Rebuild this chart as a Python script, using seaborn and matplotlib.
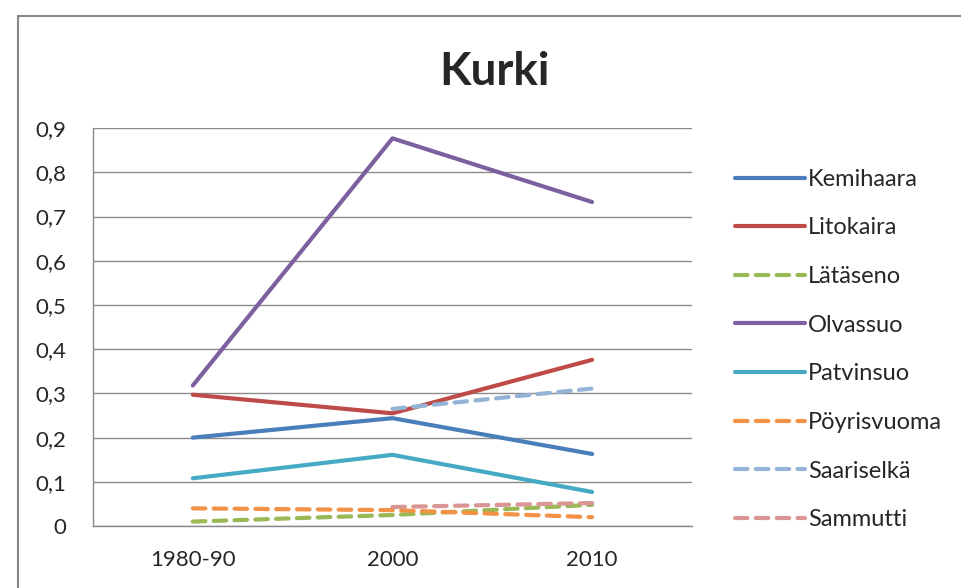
import pandas as pd
import numpy as np
import matplotlib.pyplot as plt
import seaborn as sns
from matplotlib.patches import Rectangle

years = ['1980-90', '2000', '2010']
sites = ['Kemihaara', 'Litokaira', 'Lätäseno', 'Olvassuo',
         'Patvinsuo', 'Pöyrisvuoma', 'Saariselkä', 'Sammutti']

kemihaara = [0.20, 0.244, 0.163]
litokaira = [0.297, 0.255, 0.376]
lataseno = [0.010, 0.025, 0.048]
olvassuo = [0.318, 0.877, 0.733]
patvinsuo = [0.108, 0.161, 0.077]
poyrisvuoma = [0.040, 0.036, 0.020]
saariselka = [np.nan, 0.265, 0.311]
sammutti = [np.nan, 0.043, 0.052]

yticks = [0, 0.1, 0.2, 0.3, 0.4, 0.5, 0.6, 0.7, 0.8, 0.9]
ytick_labels = ['0', '0,1', '0,2', '0,3', '0,4', '0,5', '0,6', '0,7', '0,8', '0,9']

colors = ['#4A7EBB', '#BE4B48', '#98B954', '#7D60A0',
          '#46AAC5', '#F39145', '#95B3D7', '#D99694']
dashed = [False, False, True, False, False, True, True, True]

values = [kemihaara, litokaira, lataseno, olvassuo,
          patvinsuo, poyrisvuoma, saariselka, sammutti]
rows = []
for s, vals in zip(sites, values):
    for y, v in zip(years, vals):
        if not np.isnan(v):
            rows.append({'year': y, 'value': v, 'site': s})
df = pd.DataFrame(rows)

sns.set_style('white')
plt.rcParams['font.family'] = ['Lato', 'DejaVu Sans']

fig = plt.figure(figsize=(9.61, 5.88), dpi=100)
ax = fig.add_axes([0.0968, 0.1054, 0.6232, 0.6766])

lw = 3.0
palette = dict(zip(sites, colors))
dash_map = {s: ((3.0, 2.0) if d else '') for s, d in zip(sites, dashed)}
sns.lineplot(data=df, x='year', y='value', hue='site', style='site',
             hue_order=sites, style_order=sites, palette=palette,
             dashes=dash_map, linewidth=lw, sort=False, ax=ax)
for ln in ax.get_lines():
    ln.set_dash_capstyle('round')
    ln.set_solid_capstyle('round')

ax.set_xlim(-0.5, 2.5)
ax.set_ylim(0, 0.9)
ax.set_yticks(yticks)
ax.set_yticklabels(ytick_labels)
ax.set_xticks([0, 1, 2])
ax.set_xticklabels(years)
ax.set_xticks([-0.5, 0.5, 1.5, 2.5], minor=True)
ax.tick_params(axis='x', which='major', length=0, pad=17, labelsize=16)
ax.tick_params(axis='x', which='minor', length=6.5, width=1, color='#888888', direction='out')
ax.tick_params(axis='y', length=7, width=1, color='#888888', direction='out', labelsize=16, pad=12)
ax.set_xlabel('')
ax.set_ylabel('')
ax.grid(axis='y', color='#8c8c8c', linewidth=1)
ax.set_axisbelow(True)
for side in ['top', 'right']:
    ax.spines[side].set_visible(False)
for side in ['left', 'bottom']:
    ax.spines[side].set_color('#888888')
    ax.spines[side].set_linewidth(1)

fig.text(0.515, 0.878, 'Kurki', ha='center', va='center', fontsize=33, fontweight='bold')

handles, labels = ax.get_legend_handles_labels()
leg = ax.legend(handles, labels, loc='upper left', bbox_to_anchor=(0.755, 0.729),
                bbox_transform=fig.transFigure, frameon=False, fontsize=17,
                handlelength=2.95, handletextpad=0.15, labelspacing=1.17, borderaxespad=0)
for h in leg.get_lines():
    h.set_linewidth(lw)
    h.set_dash_capstyle('round')
    h.set_solid_capstyle('round')

# chart frame
fig.patches.append(Rectangle((0.019, -0.01), 1.0, 0.983, transform=fig.transFigure,
                             fill=False, edgecolor='#888888', linewidth=1.5))

fig.savefig('out.png', dpi=100)
